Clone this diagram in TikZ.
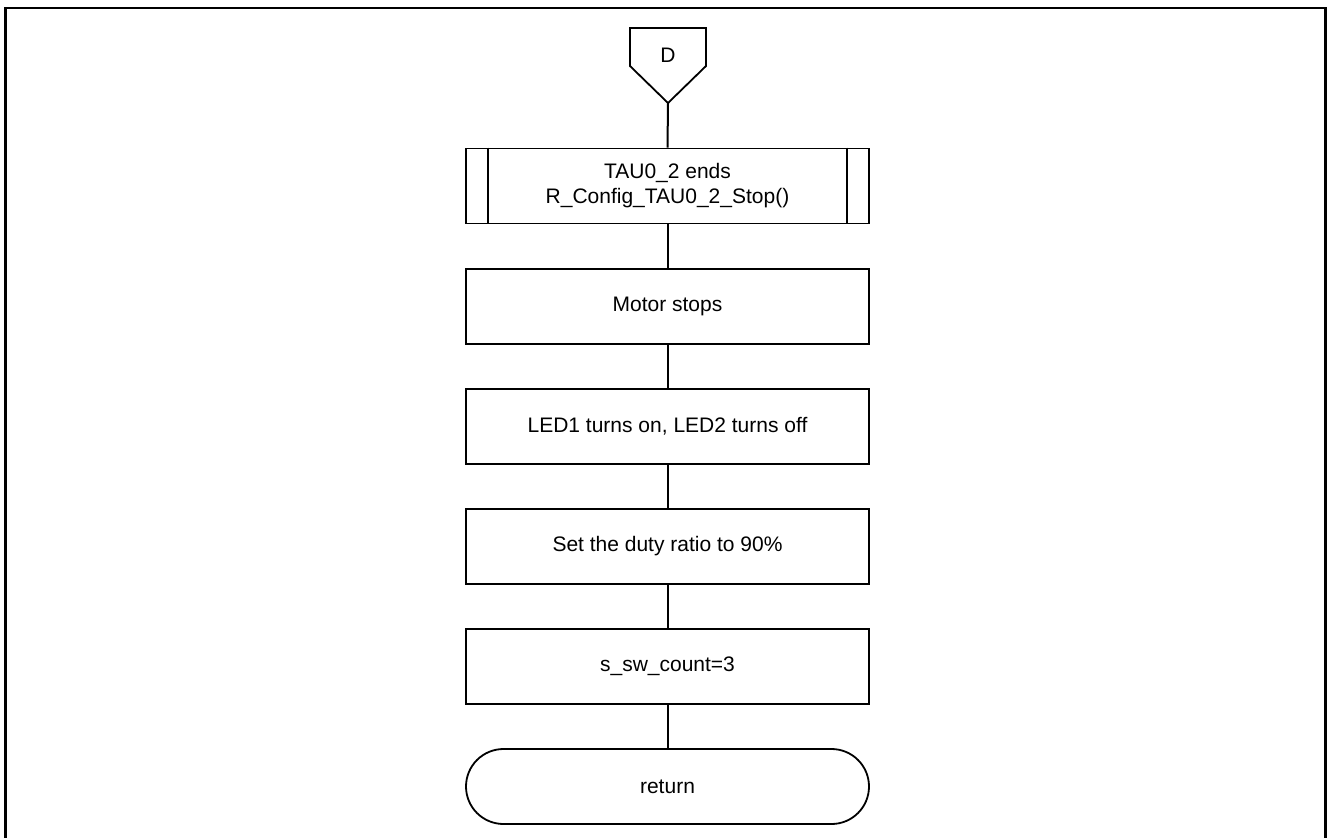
\documentclass[tikz,border=0pt]{standalone}
\usepackage{fontspec}
\setmainfont{Liberation Sans}
\begin{document}
\begin{tikzpicture}[x=1pt,y=-1pt,
  every node/.style={font=\fontsize{21}{25}\selectfont},
  proc/.style={draw, line width=1.8pt, rectangle, minimum width=403pt, minimum height=75pt, align=center, inner sep=0pt},
  subproc/.style={proc},
  term/.style={draw, line width=1.8pt, rectangle, rounded corners=37.5pt, minimum width=403pt, minimum height=75pt, inner sep=0pt},
  flow/.style={line width=2pt}]
\useasboundingbox (0,0) rectangle (1328,838);
% outer frame
\draw[line width=2.6pt] (5.5,8) rectangle (1325.5,845);

% off-page connector D
\draw[line width=1.8pt] (630,28) -- (706,28) -- (706,66) -- (668,103) -- (630,66) -- cycle;
\coordinate (dtip) at (668,103);
\node (dlabel) at (668,55) {D};

% process steps
\node[subproc] (stop) at (667.5,186) {TAU0\_2 ends\\R\_Config\_TAU0\_2\_Stop()};
\draw[line width=1.8pt] ([xshift=23pt]stop.north west) -- ([xshift=23pt]stop.south west);
\draw[line width=1.8pt] ([xshift=-23pt]stop.north east) -- ([xshift=-23pt]stop.south east);
\node[proc] (motor) at (667.5,306.5) {Motor stops};
\node[proc] (led) at (667.5,426.5) {LED1 turns on, LED2 turns off};
\node[proc] (duty) at (667.5,546.5) {Set the duty ratio to 90\%};
\node[proc] (count) at (667.5,666.5) {s\_sw\_count=3};
\node[term] (ret) at (667.5,786.5) {return};

% connectors
\draw[flow] (dtip) -- (stop.north);
\draw[flow] (stop) -- (motor);
\draw[flow] (motor) -- (led);
\draw[flow] (led) -- (duty);
\draw[flow] (duty) -- (count);
\draw[flow] (count) -- (ret);
\end{tikzpicture}
\end{document}
